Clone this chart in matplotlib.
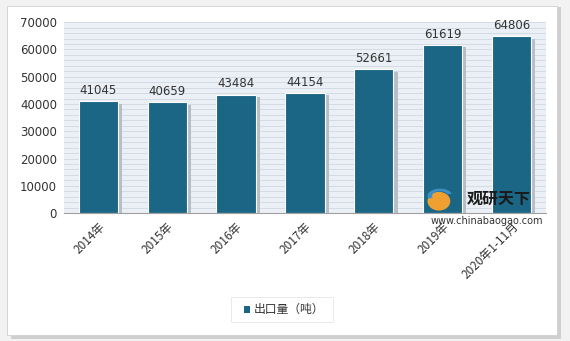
import numpy as np
import matplotlib.pyplot as plt
from matplotlib.patches import Rectangle, Ellipse, Wedge

plt.rcParams['font.family'] = ['Noto Sans CJK SC', 'DejaVu Sans']

### data ###
years = ['2014年', '2015年', '2016年', '2017年', '2018年', '2019年', '2020年1-11月']
export = [41045, 40659, 43484, 44154, 52661, 61619, 64806]
yticks = [0, 10000, 20000, 30000, 40000, 50000, 60000, 70000]


def main():
    fig = plt.figure(figsize=(5.7, 3.41), dpi=100)
    fig.patch.set_facecolor('#f2f2f2')

    # white card with shadow
    fig.patches.append(Rectangle((0.02, 0.005), 0.965, 0.975, transform=fig.transFigure,
                                 facecolor='#cfcfcf', edgecolor='none', zorder=-3))
    fig.patches.append(Rectangle((0.012, 0.018), 0.965, 0.965, transform=fig.transFigure,
                                 facecolor='white', edgecolor='#d0d0d0', lw=0.6, zorder=-2))

    ax = fig.add_axes([0.112, 0.375, 0.846, 0.56])
    ax.set_facecolor('#eaf0f5')
    for yy in np.arange(0, 70001, 2000):
        ax.axhline(yy, color='#d3dce5', lw=0.7, zorder=0)

    x = np.arange(len(years))
    # shadow bars
    ax.bar(x + 0.06, export, width=0.57, color='#b9bec4', zorder=1,
           bottom=-900)
    ax.bar(x, export, width=0.57, color='#1b6585', edgecolor='white', lw=0.8, zorder=2)
    for xi, v in zip(x, export):
        ax.text(xi, v + 1500, str(v), ha='center', va='bottom', fontsize=8.5,
                color='#333333', family='DejaVu Sans')

    ax.set_xlim(-0.5, len(years) - 0.5)
    ax.set_ylim(0, 70000)
    ax.set_yticks(yticks)
    ax.set_yticklabels([str(t) for t in yticks], fontsize=8.5, color='#333333',
                       family='DejaVu Sans')
    ax.set_xticks(x)
    ax.set_xticklabels(years, rotation=45, ha='right', rotation_mode='anchor',
                       fontsize=8.5, color='#333333')
    ax.tick_params(length=0, pad=5)
    for s in ['top', 'right', 'left']:
        ax.spines[s].set_visible(False)
    ax.spines['bottom'].set_color('#a0a0a0')

    # watermark
    fig.patches.append(Ellipse((0.77, 0.41), 0.04, 0.055, transform=fig.transFigure,
                               facecolor='#f0a030', edgecolor='none', zorder=5))
    fig.patches.append(Wedge((0.772, 0.425), 0.022, 20, 200, width=0.008,
                             transform=fig.transFigure, facecolor='#3d8fc4',
                             edgecolor='none', zorder=6))
    fig.text(0.818, 0.418, '观研天下', fontsize=11.5, fontweight='bold', color='#1a1a1a',
             va='center', zorder=5)
    fig.text(0.755, 0.352, 'www.chinabaogao.com', fontsize=7, color='#333333',
             family='DejaVu Sans', va='center', zorder=5)

    # legend
    fig.patches.append(Rectangle((0.405, 0.055), 0.18, 0.075, transform=fig.transFigure,
                                 facecolor='white', edgecolor='#e6e6e6', lw=0.6, zorder=3))
    fig.patches.append(Rectangle((0.428, 0.082), 0.011, 0.02, transform=fig.transFigure,
                                 facecolor='#1b6585', edgecolor='none', zorder=4))
    fig.text(0.445, 0.092, '出口量（吨）', fontsize=8.5, color='#333333', va='center', zorder=5)

    fig.savefig('out.png', dpi=100, facecolor=fig.get_facecolor())


if __name__ == '__main__':
    main()
